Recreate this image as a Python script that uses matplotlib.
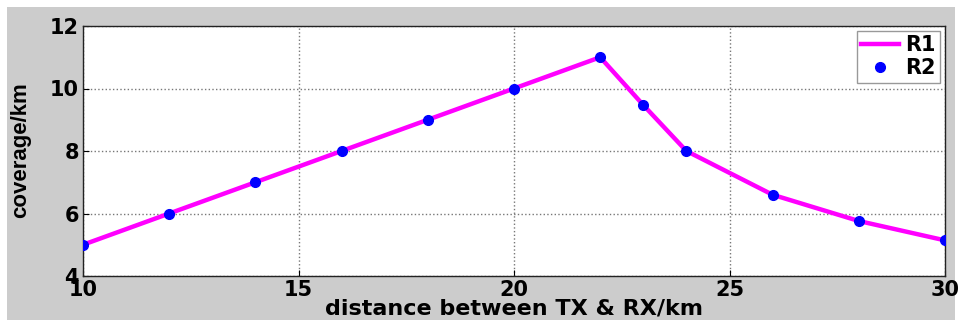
import matplotlib
matplotlib.use("Agg")
import matplotlib.pyplot as plt
from matplotlib.patches import Rectangle

distance = [10, 12, 14, 16, 18, 20, 22, 23, 24, 26, 28, 30]
coverage_r1 = [5, 6, 7, 8, 9, 10, 11, 9.47, 8, 6.6, 5.76, 5.14]
coverage_r2 = [5, 6, 7, 8, 9, 10, 11, 9.47, 8, 6.6, 5.76, 5.14]
x_ticks = [10, 15, 20, 25, 30]
y_ticks = [4, 6, 8, 10, 12]

plt.rcParams['font.family'] = ['DejaVu Sans']

fig = plt.figure(figsize=(9.6, 3.2), dpi=100, facecolor='white')
# gray MATLAB-like background, with thin white border top/left
fig.patches.append(Rectangle((7 / 960, 0), 1 - 12 / 960, 1 - 7 / 320,
                             transform=fig.transFigure, facecolor='#cccccc',
                             edgecolor='none', zorder=-10))

ax = fig.add_axes([83 / 960, 44 / 320, 862 / 960, 250 / 320])
ax.plot(distance, coverage_r1, color='#ff00ff', lw=3.2, label='R1', zorder=3)
ax.plot(distance, coverage_r2, ls='none', marker='o', ms=7, color='#0000ff',
        label='R2', zorder=4)

ax.set_xlim(10, 30)
ax.set_ylim(4, 12)
ax.set_xticks(x_ticks)
ax.set_yticks(y_ticks)
ax.tick_params(labelsize=15, direction='in', length=4, pad=3)
for lab in ax.get_xticklabels() + ax.get_yticklabels():
    lab.set_fontweight('bold')
ax.grid(True, ls=':', color='#777777', lw=1)
for s in ax.spines.values():
    s.set_color('#222222')
    s.set_linewidth(1)

ax.set_xlabel('distance between TX & RX/km', fontsize=16, fontweight='bold')
ax.xaxis.set_label_coords(514 / 960, 1 - 309 / 320, transform=fig.transFigure)
ax.xaxis.label.set_va('center')
ax.set_ylabel('coverage/km', fontsize=16, fontweight='bold',
              family=['Liberation Sans', 'DejaVu Sans'])
ax.yaxis.set_label_coords(31 / 960, 1 - 150 / 320, transform=fig.transFigure)

leg = ax.legend(loc='upper right', prop={'weight': 'bold', 'size': 15},
                fancybox=False, framealpha=1, edgecolor='#999999',
                borderpad=0.2, handlelength=1.8, handletextpad=0.3,
                labelspacing=0.15, borderaxespad=0.25)

fig.savefig('out.png', dpi=100, facecolor=fig.get_facecolor())
